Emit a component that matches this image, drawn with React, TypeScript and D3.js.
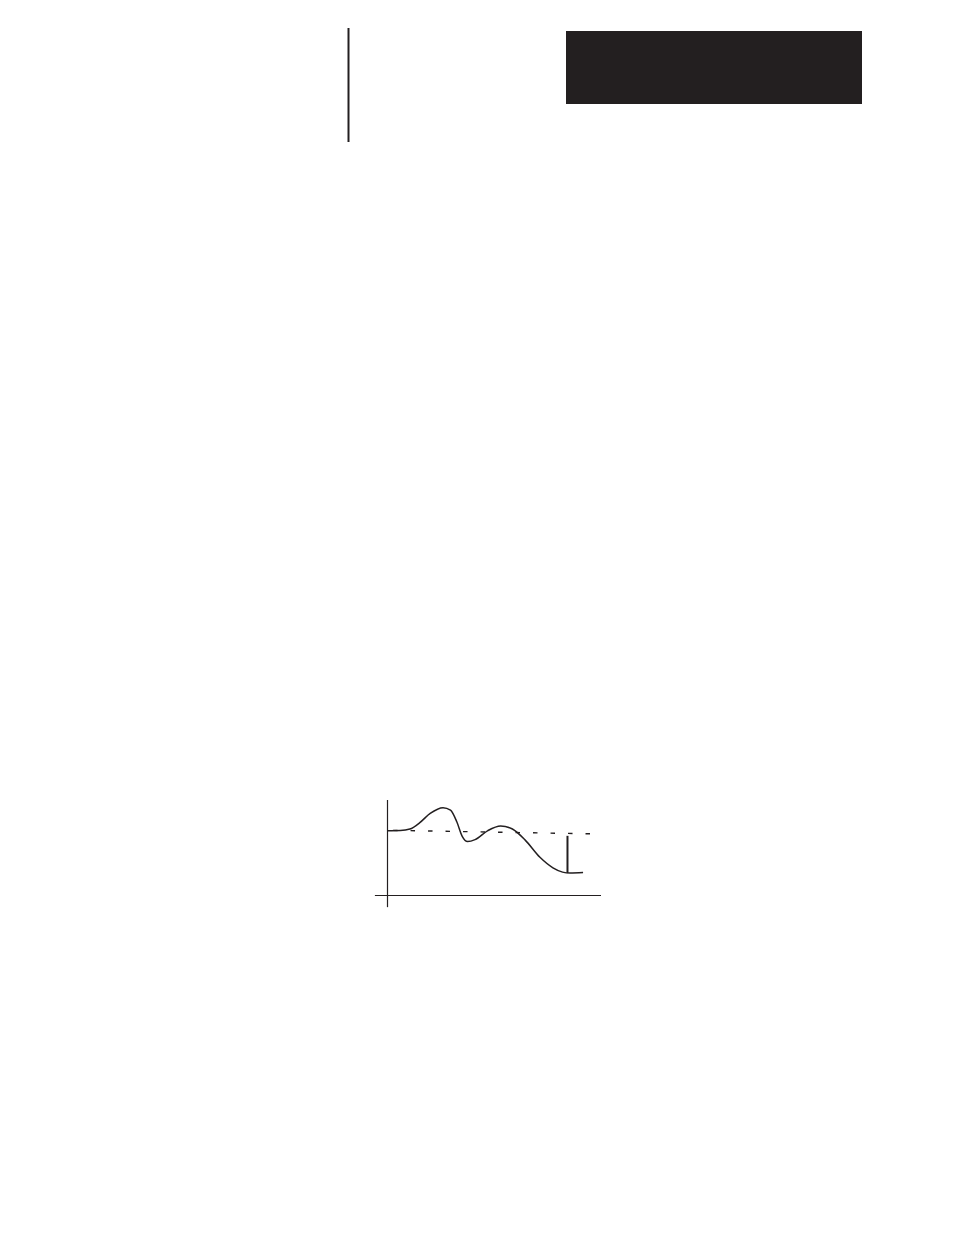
// @ts-nocheck
import { useRef, useEffect } from "react";
import * as d3 from "d3";

// curva medida (unidades del gráfico: x 0..100, y 0..100)
const curveX = [0, 6, 10.5, 15, 20, 26, 29.5, 32.5, 35, 37.5, 41, 47, 53, 58.5, 64.5, 71.4, 77.5, 82, 85.5, 91.6];
const curveY = [67.8, 68, 69.6, 76, 86, 92, 89.5, 77, 62, 56.5, 58.5, 68, 72.8, 69.6, 58, 40, 29, 24.5, 23.5, 24];

// línea de referencia punteada
const setpointX = [2.6, 95];
const setpointY = [68.2, 64.6];

// marca vertical (desviación)
const markerX = [84.3, 84.3];
const markerY = [62.5, 23.5];

const INK = "#231f20";

const App = () => {
  const svgRef = useRef();

  useEffect(() => {
    const svg = d3.select(svgRef.current);
    svg.selectAll("*").remove();

    const width = 954;
    const height = 1235;
    svg.attr("width", width).attr("height", height);

    // encabezado de página
    svg
      .append("rect")
      .attr("x", 566)
      .attr("y", 31)
      .attr("width", 296)
      .attr("height", 73)
      .attr("fill", INK);

    svg
      .append("line")
      .attr("x1", 348.5)
      .attr("x2", 348.5)
      .attr("y1", 28)
      .attr("y2", 142)
      .attr("stroke", INK)
      .attr("stroke-width", 2);

    const x = d3.scaleLinear().domain([0, 100]).range([387.5, 601]);
    const y = d3.scaleLinear().domain([0, 100]).range([895.5, 800]);

    const chart = svg.append("g");

    // ejes
    chart
      .append("line")
      .attr("x1", x(0))
      .attr("x2", x(0))
      .attr("y1", y(100))
      .attr("y2", y(-12.2))
      .attr("stroke", INK)
      .attr("stroke-width", 1.2);

    chart
      .append("line")
      .attr("x1", x(-5.9))
      .attr("x2", x(100))
      .attr("y1", y(0))
      .attr("y2", y(0))
      .attr("stroke", INK)
      .attr("stroke-width", 1.2);

    // punteada
    const dashed = d3
      .line()
      .x((d) => x(d[0]))
      .y((d) => y(d[1]));

    chart
      .append("path")
      .attr("d", dashed(d3.zip(setpointX, setpointY)))
      .attr("fill", "none")
      .attr("stroke", INK)
      .attr("stroke-width", 1.4)
      .attr("stroke-dasharray", "4.5,13");

    // curva de respuesta
    const line = d3
      .line()
      .x((d) => x(d[0]))
      .y((d) => y(d[1]))
      .curve(d3.curveMonotoneX);

    chart
      .append("path")
      .attr("d", line(d3.zip(curveX, curveY)))
      .attr("fill", "none")
      .attr("stroke", INK)
      .attr("stroke-width", 1.5);

    chart
      .append("line")
      .attr("x1", x(markerX[0]))
      .attr("x2", x(markerX[1]))
      .attr("y1", y(markerY[0]))
      .attr("y2", y(markerY[1]))
      .attr("stroke", INK)
      .attr("stroke-width", 2);
  }, []);

  return (
    <svg
      ref={svgRef}
      style={{ position: "absolute", left: 0, top: 0, background: "#fff" }}
    ></svg>
  );
};

export default App;
